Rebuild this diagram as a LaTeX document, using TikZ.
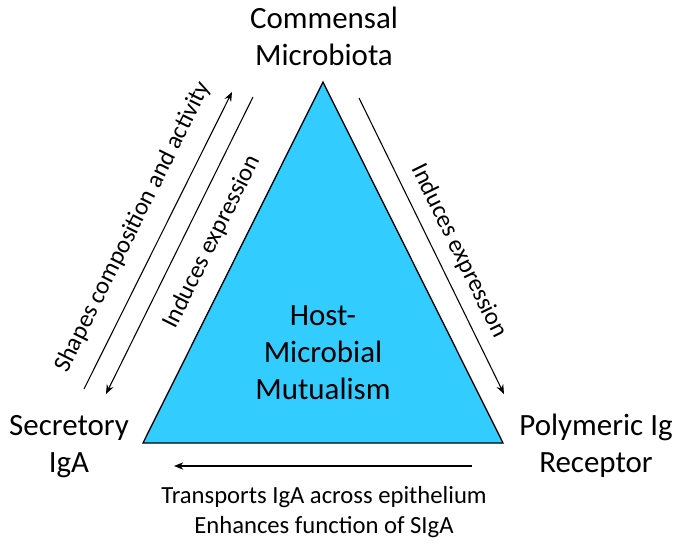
\documentclass[tikz,border=0pt]{standalone}
\usepackage{fontspec}
\setmainfont{Carlito}
\usetikzlibrary{arrows.meta}
\definecolor{trifill}{RGB}{51,204,255}
\begin{document}
\begin{tikzpicture}[x=0.75pt,y=-0.75pt,
  big/.style={font=\fontsize{23.2pt}{27.75pt}\selectfont, align=center, inner sep=0pt},
  small/.style={font=\fontsize{18.5pt}{22.5pt}\selectfont, align=center, inner sep=0pt},
  conn/.style={line width=0.8pt, -{Stealth[length=7pt,width=5.5pt]}}]
\useasboundingbox (0,0) rectangle (683,544);
% triangle
\coordinate (apex) at (323,82);
\coordinate (bl) at (143,443);
\coordinate (br) at (503,443);
\draw[fill=trifill, line width=1pt, line join=miter] (apex) -- (bl) -- (br) -- cycle;
% corner labels (base = baseline of last line)
\node[big, anchor=base] (cm) at (324,65) {Commensal\\Microbiota};
\node[big, anchor=base] (siga) at (69,472) {Secretory\\IgA};
\node[big, anchor=base] (pigr) at (596,472) {Polymeric Ig\\Receptor};
\node[big, anchor=base] (hmm) at (323,399) {Host-\\Microbial\\Mutualism};
% arrows
\coordinate (o1) at (84,389);
\coordinate (o2) at (232,92);
\coordinate (i1) at (253,97);
\coordinate (i2) at (106,394);
\coordinate (r1) at (359,98);
\coordinate (r2) at (504,394);
\coordinate (b1) at (472,466);
\coordinate (b2) at (174,466);
\draw[conn] (o1) -- (o2);
\draw[conn] (i1) -- (i2);
\draw[conn] (r1) -- (r2);
\draw[conn] (b1) -- (b2);
% arrow labels
\node[small, rotate=63.5] (lshape) at (133,227) {Shapes composition and activity};
\node[small, rotate=63.5] (linduce) at (212,242) {Induces expression};
\node[small, rotate=-63.9] (rinduce) at (459,251) {Induces expression};
\node[small, anchor=base] (btxt) at (324,533) {Transports IgA across epithelium\\Enhances function of SIgA};
\end{tikzpicture}
\end{document}
